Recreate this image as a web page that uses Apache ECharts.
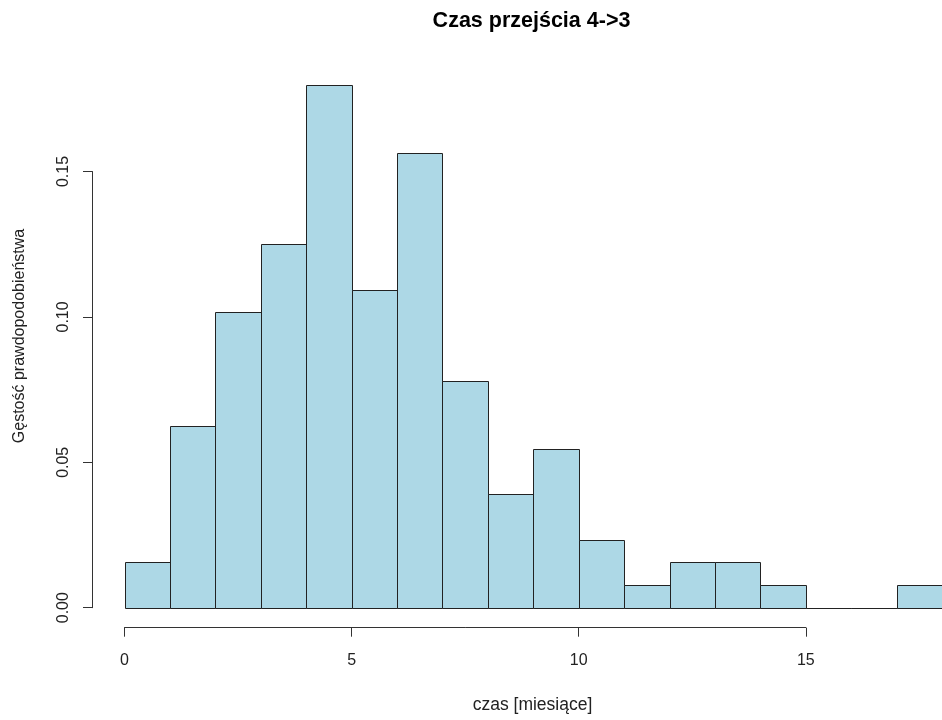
<!DOCTYPE html>
<html>
<head>
<meta charset="utf-8">
<title>Czas przejścia 4->3</title>
<script src="https://cdn.jsdelivr.net/npm/echarts@6/dist/echarts.min.js"></script>
<style>
    html, body { margin: 0; padding: 0; background: #fff; }
    #chart { width: 942px; height: 720px; }
</style>
</head>
<body>
<div id="chart"></div>
<script>
    // granice przedziałów histogramu (szerokość 1 miesiąc)
    var breaks = [0, 1, 2, 3, 4, 5, 6, 7, 8, 9, 10, 11, 12, 13, 14, 15, 16, 17, 18];
    // gęstość w każdym przedziale
    var density = [0.0156, 0.0625, 0.1016, 0.125, 0.1797, 0.1094, 0.1563, 0.0781, 0.0391,
                   0.0547, 0.0234, 0.0078, 0.0156, 0.0156, 0.0078, 0, 0, 0.0078];
    var xTicks = [0, 5, 10, 15];
    var yTicks = [0, 0.05, 0.10, 0.15];

    var font = 'Liberation Sans, Arial, sans-serif';

    var bins = density.map(function (d, i) {
        return [breaks[i], breaks[i + 1], d];
    });

    var chart = echarts.init(document.getElementById('chart'));

    var option = {
        animation: false,
        backgroundColor: '#fff',
        grid: [
            // słupki
            { left: 124.5, right: 0, top: 26, bottom: 112.3 },
            // oś X (0 - 15)
            { left: 124.5, width: 681.3, top: 26, bottom: 112.3 },
            // oś Y (0 - 0.15)
            { left: 92, width: 10, top: 171.5, bottom: 112.3 }
        ],
        xAxis: [
            { gridIndex: 0, type: 'value', min: 0, max: 18, show: false },
            {
                gridIndex: 1, type: 'value', min: xTicks[0], max: xTicks[xTicks.length - 1],
                interval: 5, offset: 20, position: 'bottom',
                axisLine: { show: true, onZero: false, lineStyle: { color: '#333', width: 1 } },
                axisTick: { show: true, length: 9, lineStyle: { color: '#333' } },
                axisLabel: { margin: 25, fontFamily: font, fontSize: 16, color: '#222' },
                splitLine: { show: false }
            },
            { gridIndex: 2, type: 'value', show: false }
        ],
        yAxis: [
            { gridIndex: 0, type: 'value', min: 0, max: 0.2, show: false },
            { gridIndex: 1, type: 'value', min: 0, max: 1, show: false },
            {
                gridIndex: 2, type: 'value', min: yTicks[0], max: yTicks[yTicks.length - 1],
                interval: 0.05, position: 'left',
                axisLine: { show: true, onZero: false, lineStyle: { color: '#333', width: 1 } },
                axisTick: { show: true, length: 9, lineStyle: { color: '#333' } },
                axisLabel: {
                    rotate: 90, margin: 20, fontFamily: font, fontSize: 16, color: '#222',
                    formatter: function (v) { return v.toFixed(2); }
                },
                splitLine: { show: false }
            }
        ],
        graphic: [
            {
                type: 'text', x: 531.5, y: 21,
                style: {
                    text: 'Czas przejścia 4->3', fontFamily: font, fontSize: 21.5, fontWeight: 'bold',
                    fill: '#000', align: 'center', verticalAlign: 'middle'
                }
            },
            {
                type: 'text', x: 532.5, y: 705,
                style: {
                    text: 'czas [miesiące]', fontFamily: font, fontSize: 17.5,
                    fill: '#222', align: 'center', verticalAlign: 'middle'
                }
            },
            {
                type: 'text', x: 20, y: 336, rotation: Math.PI / 2,
                style: {
                    text: 'Gęstość prawdopodobieństwa', fontFamily: font, fontSize: 16,
                    fill: '#222', align: 'center', verticalAlign: 'middle'
                }
            }
        ],
        series: [
            {
                type: 'custom',
                xAxisIndex: 0,
                yAxisIndex: 0,
                data: bins,
                renderItem: function (params, api) {
                    var p0 = api.coord([api.value(0), 0]);
                    var p1 = api.coord([api.value(1), api.value(2)]);
                    return {
                        type: 'rect',
                        shape: {
                            x: Math.round(p0[0]) + 0.5,
                            y: Math.round(p1[1]) + 0.5,
                            width: Math.round(p1[0]) - Math.round(p0[0]),
                            height: Math.round(p0[1]) - Math.round(p1[1])
                        },
                        style: { fill: '#ADD8E6', stroke: '#222', lineWidth: 1 }
                    };
                }
            }
        ]
    };

    chart.setOption(option);
</script>
</body>
</html>
